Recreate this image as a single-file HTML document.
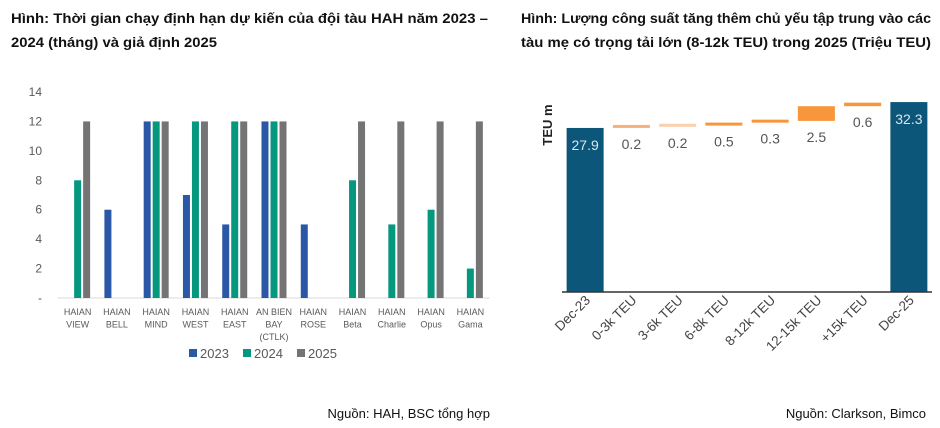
<!DOCTYPE html>
<html><head><meta charset="utf-8"><style>
html,body{margin:0;padding:0;background:#fff;}
svg{display:block;font-family:"Liberation Sans",sans-serif;}
</style></head><body>
<svg id="s" width="940" height="428" viewBox="0 0 940 428">
<g font-weight="bold" font-size="14" fill="#111">
<text x="11" y="23" textLength="477" lengthAdjust="spacingAndGlyphs">Hình: Thời gian chạy định hạn dự kiến của đội tàu HAH năm 2023 –</text>
<text x="11" y="47" textLength="206" lengthAdjust="spacingAndGlyphs">2024 (tháng) và giả định 2025</text>
</g>
<g font-weight="bold" font-size="14" fill="#111">
<text x="521" y="23" textLength="410" lengthAdjust="spacingAndGlyphs">Hình: Lượng công suất tăng thêm chủ yếu tập trung vào các</text>
<text x="521" y="47" textLength="410" lengthAdjust="spacingAndGlyphs">tàu mẹ có trọng tải lớn (8-12k TEU) trong 2025 (Triệu TEU)</text>
</g>
<text x="490" y="418" text-anchor="end" font-size="13" fill="#111">Nguồn: HAH, BSC tổng hợp</text>
<text x="926" y="418" text-anchor="end" font-size="13" fill="#111">Nguồn: Clarkson, Bimco</text>
<g id="left"></g>
<g id="right"></g>
</svg>
<script>
const ships=[["HAIAN","VIEW"],["HAIAN","BELL"],["HAIAN","MIND"],["HAIAN","WEST"],["HAIAN","EAST"],["AN BIEN","BAY","(CTLK)"],["HAIAN","ROSE"],["HAIAN","Beta"],["HAIAN","Charlie"],["HAIAN","Opus"],["HAIAN","Gama"]];
const v2023=[0,6,12,7,5,12,5,0,0,0,0];
const v2024=[8,0,12,12,12,12,0,8,5,6,2];
const v2025=[12,0,12,12,12,12,0,12,12,12,12];
const yTicks=[0,2,4,6,8,10,12,14];
const yTickLabels=["-","2","4","6","8","10","12","14"];
const seriesNames=["2023","2024","2025"];

const wfCats=["Dec-23","0-3k TEU","3-6k TEU","6-8k TEU","8-12k TEU","12-15k TEU","+15k TEU","Dec-25"];
const wfValues=[27.9,0.2,0.2,0.5,0.3,2.5,0.6,32.3];
const wfLabels=["27.9","0.2","0.2","0.5","0.3","2.5","0.6","32.3"];

const NS="http://www.w3.org/2000/svg";
function mk(parent,tag,attrs,txt){const e=document.createElementNS(NS,tag);for(const k in attrs)e.setAttribute(k,attrs[k]);if(txt!=null)e.textContent=txt;parent.appendChild(e);return e;}

// Left chart
const L=document.getElementById('left');
const lx0=58,lx1=490,ly0=298,ly1=92;
const ly=v=>ly0-(v/14)*(ly0-ly1);
const slot=(lx1-lx0)/ships.length;
const lcx=i=>lx0+slot*(i+0.5);
const colors=["#2a58a6","#06977f","#747474"];
yTicks.forEach((t,i)=>{
  const e=mk(L,'text',{x:42,y:ly(t)+4,'text-anchor':'end','font-size':12,fill:'#595959'},yTickLabels[i]);
  
  
});
const ax=mk(L,'line',{x1:lx0,x2:lx1,y1:ly0,y2:ly0,stroke:'#d9d9d9','stroke-width':1});


[v2023,v2024,v2025].forEach((arr,s)=>{
  arr.forEach((v,i)=>{
    if(v<=0)return;
    const r=mk(L,'rect',{x:lcx(i)+(s-1)*9-3.5,y:ly(v),width:7,height:ly0-ly(v),fill:colors[s]});
    
    
  });
});
ships.forEach((lines,i)=>{
  lines.forEach((ln,j)=>{
    const e=mk(L,'text',{x:lcx(i),y:315+j*12.5,'text-anchor':'middle','font-size':9,fill:'#595959'},ln);
    
    
  });
});
seriesNames.forEach((n,s)=>{
  const x=189+s*54;
  const g=mk(L,'g',{});
  
  
  mk(g,'rect',{x:x,y:349,width:8,height:8,fill:colors[s]});
  mk(g,'text',{x:x+11,y:358,'font-size':13,fill:'#595959'},n);
});

// Right chart
const R=document.getElementById('right');
const rx0=562,rx1=932,ry0=292,scale=5.88;
const ry=v=>ry0-v*scale;
const rslot=(rx1-rx0)/wfCats.length;
const rcx=i=>rx0+rslot*(i+0.5);
const yl=mk(R,'text',{x:0,y:0,'font-size':13,'font-weight':'bold',fill:'#222',transform:'translate(552,125) rotate(-90)','text-anchor':'middle'},'TEU m');


const incColors=["#f8b17b","#fbd0ab","#f7963a","#f7963a","#f7963a","#f7963a"];
let cum=wfValues[0];
wfValues.forEach((v,i)=>{
  const last=i===wfValues.length-1;
  if(i===0||last){
    const r=mk(R,'rect',{x:rcx(i)-18.5,y:ry(v),width:37,height:ry0-ry(v),fill:'#0c5679'});
    
    
    const t=mk(R,'text',{x:rcx(i),y:ry(v)+22,'text-anchor':'middle','font-size':14,fill:'#d8e6ee'},wfLabels[i]);
    
    
  } else {
    const top=ry(cum+v),bot=ry(cum);
    const h=Math.max(3,bot-top);
    const r=mk(R,'rect',{x:rcx(i)-18.5,y:bot-h,width:37,height:h,fill:incColors[i-1]});
    
    
    const t=mk(R,'text',{x:rcx(i),y:bot+21,'text-anchor':'middle','font-size':14,fill:'#555'},wfLabels[i]);
    
    
    cum+=v;
  }
});
const rax=mk(R,'line',{x1:rx0,x2:rx1,y1:ry0,y2:ry0,stroke:'#333','stroke-width':1.5});


wfCats.forEach((c,i)=>{
  const x=rcx(i)+6,y=301;
  const t=mk(R,'text',{x:x,y:y,'text-anchor':'end','font-size':13.5,fill:'#444',transform:`rotate(-45 ${x} ${y})`},c);
  
  
});
</script>
</body></html>
